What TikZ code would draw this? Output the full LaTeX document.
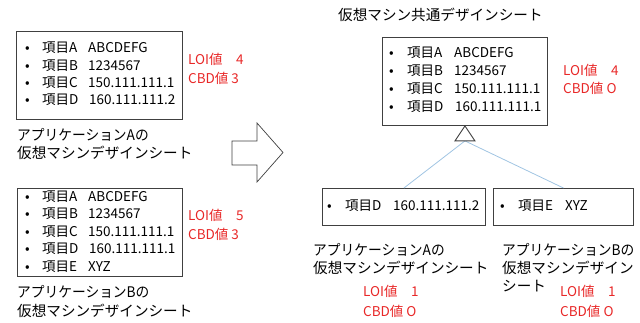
\documentclass[tikz,border=0pt]{standalone}
\usepackage{fontspec}
\setmainfont{Noto Sans CJK JP}
\usetikzlibrary{calc}
\definecolor{boxline}{RGB}{64,64,64}
\definecolor{redtxt}{RGB}{232,40,40}
\definecolor{conn}{RGB}{160,196,226}
\tikzset{
  sheet/.style={draw=boxline, line width=0.9pt, fill=white, anchor=north west, inner sep=0pt},
  itemline/.style={anchor=west, inner sep=0pt, font=\fontsize{13.5}{15}\selectfont, text height=0.88em, text depth=0.12em},
  caption/.style={anchor=west, inner sep=0pt, font=\fontsize{14.6}{17}\selectfont, text height=0.88em, text depth=0.12em},
  redlabel/.style={anchor=west, inner sep=0pt, text=redtxt, font=\fontsize{13.5}{15}\selectfont, text height=0.88em, text depth=0.12em},
}
\newcommand{\itm}[4]{\makebox[#1pt][l]{•}\makebox[#2pt][l]{#3}#4}
\newcommand{\narrow}[1]{\scalebox{0.94}[1]{#1}}
\begin{document}
\begin{tikzpicture}[x=1pt,y=-1pt]
\useasboundingbox (0,0) rectangle (640,323);
% left top sheet
\node[sheet, minimum width=166pt, minimum height=88pt] (b1) at (16,31) {};
\node[itemline] (b1a) at (25,49) {\itm{17}{46}{項目A}{ABCDEFG}};
\node[itemline] (b1b) at (25,67) {\itm{17}{46}{項目B}{1234567}};
\node[itemline] (b1c) at (25,84) {\itm{17}{46}{項目C}{150.111.111.1}};
\node[itemline] (b1d) at (25,101) {\itm{17}{47}{項目D}{160.111.111.2}};
\node[redlabel] (r1a) at (188,61) {LOI値　4};
\node[redlabel] (r1b) at (188,80) {CBD値 3};
\node[caption] (c1a) at (17,137) {\narrow{アプリケーションAの}};
\node[caption] (c1b) at (17,155) {仮想マシンデザインシート};
% big arrow
\draw[draw=boxline, line width=0.7pt, fill=white] (232,141) -- (257,141) -- (257,123) -- (283,152.5) -- (257,182) -- (257,165) -- (232,165) -- cycle;
% left bottom sheet
\node[sheet, minimum width=165pt, minimum height=88pt] (b2) at (17,188) {};
\node[itemline] (b2a) at (25,198) {\itm{17}{46}{項目A}{ABCDEFG}};
\node[itemline] (b2b) at (25,215) {\itm{17}{46}{項目B}{1234567}};
\node[itemline] (b2c) at (25,233) {\itm{17}{46}{項目C}{150.111.111.1}};
\node[itemline] (b2d) at (25,250) {\itm{17}{47}{項目D}{160.111.111.1}};
\node[itemline] (b2e) at (25,268) {\itm{17}{46}{項目E}{XYZ}};
\node[redlabel] (r2a) at (188,217) {LOI値　5};
\node[redlabel] (r2b) at (188,236) {CBD値 3};
\node[caption] (c2a) at (17,294) {\narrow{アプリケーションBの}};
\node[caption] (c2b) at (17,313) {仮想マシンデザインシート};
% right: common sheet
\node[caption] (title) at (338,17) {仮想マシン共通デザインシート};
\node[sheet, minimum width=165pt, minimum height=88pt] (b3) at (382,37) {};
\node[itemline] (b3a) at (389,54) {\itm{18}{47}{項目A}{ABCDEFG}};
\node[itemline] (b3b) at (389,72) {\itm{18}{47}{項目B}{1234567}};
\node[itemline] (b3c) at (389,90) {\itm{18}{47}{項目C}{150.111.111.1}};
\node[itemline] (b3d) at (389,108) {\itm{18}{48}{項目D}{160.111.111.1}};
\node[redlabel] (r3a) at (563,72) {LOI値　4};
\node[redlabel] (r3b) at (563,90) {CBD値 O};
% child sheets
\node[sheet, minimum width=163pt, minimum height=37pt] (b4) at (322,188) {};
\node[itemline] (b4a) at (327,207) {\itm{18}{48}{項目D}{160.111.111.2}};
\node[sheet, minimum width=140pt, minimum height=37pt] (b5) at (493,188) {};
\node[itemline] (b5a) at (500,207) {\itm{18}{47}{項目E}{XYZ}};
% inheritance connectors
\coordinate (tb) at ($(b3.south)+(0,15)$);
\draw[conn, line width=0.8pt] (tb) -- (b4.north);
\draw[conn, line width=0.8pt] (tb) -- (b5.north);
\draw[draw=boxline, line width=0.9pt, fill=white] (b3.south) -- ++(-10,15) -- ++(20,0) -- cycle;
% captions below children
\node[caption] (c4a) at (313,252) {\narrow{アプリケーションAの}};
\node[caption] (c4b) at (313,270) {仮想マシンデザインシート};
\node[caption] (c5a) at (502,252) {\narrow{アプリケーションBの}};
\node[caption] (c5b) at (502,270) {仮想マシンデザイン};
\node[caption] (c5c) at (502,288) {シート};
\node[redlabel] (r4a) at (363,293) {LOI値　1};
\node[redlabel] (r4b) at (363,313) {CBD値 O};
\node[redlabel] (r5a) at (560,293) {LOI値　1};
\node[redlabel] (r5b) at (560,313) {CBD値 O};
\end{tikzpicture}
\end{document}
